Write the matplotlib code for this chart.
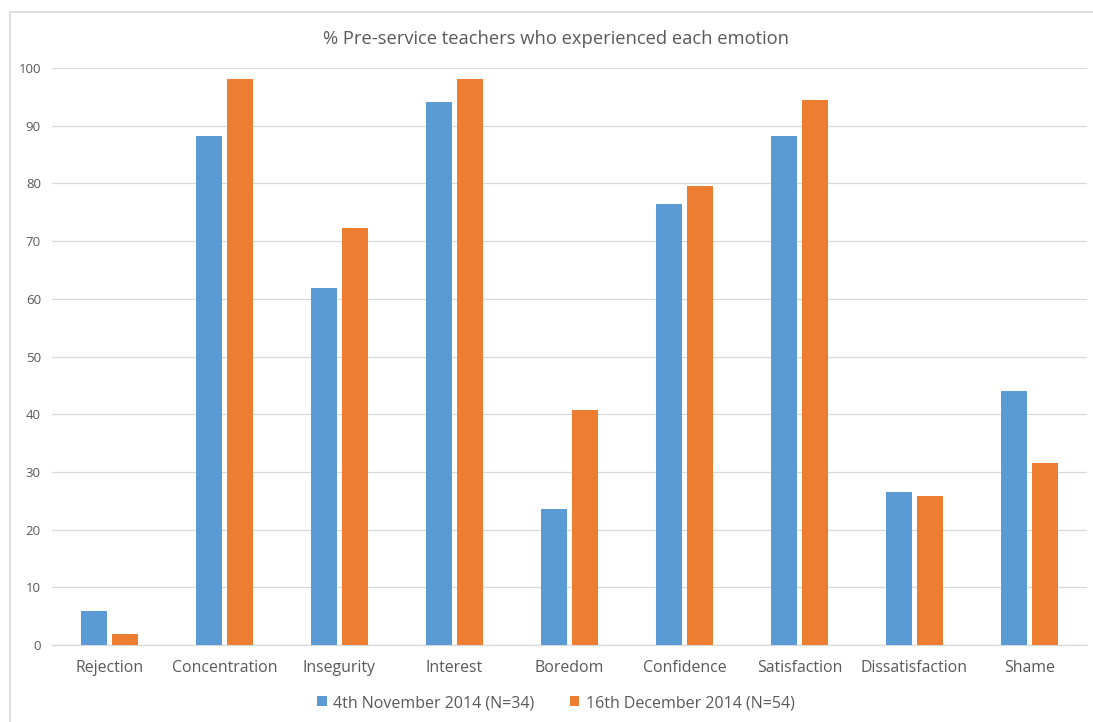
import matplotlib
matplotlib.use("Agg")
import matplotlib.pyplot as plt
import numpy as np
from matplotlib.lines import Line2D

categories = ["Rejection", "Concentration", "Insegurity", "Interest", "Boredom",
              "Confidence", "Satisfaction", "Dissatisfaction", "Shame"]
nov_2014 = [5.9, 88.2, 61.8, 94.1, 23.5, 76.5, 88.2, 26.5, 44.1]
dec_2014 = [1.9, 98.1, 72.2, 98.1, 40.7, 79.6, 94.4, 25.9, 31.5]
series_labels = ["4th November 2014 (N=34)", "16th December 2014 (N=54)"]
yticks = list(range(0, 101, 10))

plt.rcParams["font.family"] = ["Open Sans", "DejaVu Sans"]
text_color = "#595959"

fig = plt.figure(figsize=(10.93, 7.22), dpi=100)
ax = fig.add_axes([52 / 1093, 77 / 722, (1087 - 52) / 1093, (645 - 68) / 722])

x = np.arange(len(categories))
w = 0.226
gap = 0.05
b1 = ax.bar(x - (w + gap) / 2, nov_2014, width=w, color="#5B9BD5", zorder=3,
            label=series_labels[0])
b2 = ax.bar(x + (w + gap) / 2, dec_2014, width=w, color="#ED7D31", zorder=3,
            label=series_labels[1])

ax.set_xlim(-0.5, len(categories) - 0.5)
ax.set_ylim(0, 100)
ax.set_yticks(yticks)
ax.set_yticklabels([str(t) for t in yticks], fontsize=9.5, color=text_color)
ax.set_xticks(x)
ax.set_xticklabels(categories, fontsize=11.4, color=text_color)
ax.tick_params(axis="both", length=0)
ax.tick_params(axis="y", pad=8)
ax.tick_params(axis="x", pad=11)
ax.yaxis.grid(True, color="#D9D9D9", linewidth=0.9, zorder=0)
for s in ["top", "right", "left"]:
    ax.spines[s].set_visible(False)
ax.spines["bottom"].set_color("#D9D9D9")
ax.spines["bottom"].set_linewidth(0.9)

fig.text(556 / 1093, 1 - 39 / 722, "% Pre-service teachers who experienced each emotion",
         ha="center", va="center", fontsize=13.2, color=text_color)

leg = fig.legend(handles=[b1, b2], loc="center", bbox_to_anchor=(556 / 1093, 1 - 703 / 722),
                 ncol=2, frameon=False, fontsize=11.5, handlelength=0.6, handleheight=0.6,
                 handletextpad=0.4, columnspacing=2.2)
for t in leg.get_texts():
    t.set_color(text_color)

# outer frame on left and top
fig.add_artist(Line2D([10 / 1093, 10 / 1093], [0, 1 - 12 / 722], transform=fig.transFigure,
                      color="#D9D9D9", linewidth=1.2))
fig.add_artist(Line2D([10 / 1093, 1], [1 - 12 / 722, 1 - 12 / 722], transform=fig.transFigure,
                      color="#D9D9D9", linewidth=1.2))

fig.savefig("out.png", dpi=100)
